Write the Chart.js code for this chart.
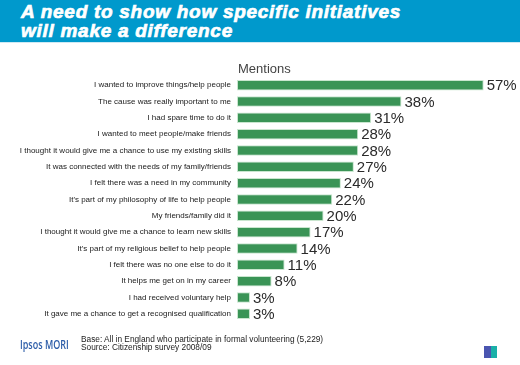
<!DOCTYPE html>
<html>
<head>
<meta charset="utf-8">
<script src="https://cdn.jsdelivr.net/npm/chart.js@4"></script>
<style>
  html, body { margin:0; padding:0; background:#fff; }
  #wrap { position:relative; width:520px; height:365px; overflow:hidden; font-family:"Liberation Sans", Arial, sans-serif; }
  #header { position:absolute; left:0; top:0; width:520px; height:42px; background:#0099CC; border-bottom:1px solid #cfe9f3; }
  #title { position:absolute; left:21px; top:2px; color:#fff; font-weight:bold; font-style:italic; font-size:19px; line-height:19px; letter-spacing:0.72px; -webkit-text-stroke:0.7px #fff; }
  #chartbox { position:absolute; left:0; top:0; width:520px; height:365px; }
  #logo { position:absolute; left:20px; top:336px; color:#2b5ca8; font-size:12.5px; font-family:"Open Sans", "Liberation Sans", sans-serif; font-weight:600; transform:scaleX(0.72); transform-origin:0 0; white-space:nowrap; }
  #note { position:absolute; left:81px; top:335px; color:#222; font-size:8.3px; line-height:8px; }
  #icon { position:absolute; left:484px; top:346px; width:13px; height:12px; background:linear-gradient(90deg,#4a55b0 0%,#4a55b0 55%,#1ab0a8 55%,#1ab0a8 100%); }
</style>
</head>
<body>
<div id="wrap">
  <div id="chartbox"><canvas id="c" width="520" height="365"></canvas></div>
  <div id="header"><div id="title">A need to show how specific initiatives<br>will make a difference</div></div>
  <div id="logo">Ipsos MORI</div>
  <div id="note">Base: All in England who participate in formal volunteering (5,229)<br>Source: Citizenship survey 2008/09</div>
  <div id="icon"></div>
</div>
<script>
const categories = [
  "I wanted to improve things/help people",
  "The cause was really important to me",
  "I had spare time to do it",
  "I wanted to meet people/make friends",
  "I thought it would give me a chance to use my existing skills",
  "It was connected with the needs of my family/friends",
  "I felt there was a need in my community",
  "It's part of my philosophy of life to help people",
  "My friends/family did it",
  "I thought it would give me a chance to learn new skills",
  "It's part of my religious belief to help people",
  "I felt there was no one else to do it",
  "It helps me get on in my career",
  "I had received voluntary help",
  "It gave me a chance to get a recognised qualification"
];
const mentions = [57, 38, 31, 28, 28, 27, 24, 22, 20, 17, 14, 11, 8, 3, 3];
const seriesLabel = "Mentions";

const valueLabels = {
  id: 'valueLabels',
  afterDatasetsDraw(chart) {
    const ctx = chart.ctx;
    const meta = chart.getDatasetMeta(0);
    ctx.save();
    ctx.font = '15px "Liberation Sans", Arial, sans-serif';
    ctx.fillStyle = '#2a2a2a';
    ctx.textAlign = 'left';
    ctx.textBaseline = 'middle';
    meta.data.forEach((bar, i) => {
      ctx.fillText(mentions[i] + '%', bar.x + 3, bar.y + 1);
    });
    ctx.font = '13px "Liberation Sans", Arial, sans-serif';
    ctx.fillStyle = '#444';
    ctx.fillText(seriesLabel, chart.chartArea.left + 1, 69);
    ctx.restore();
  }
};

new Chart(document.getElementById('c'), {
  type: 'bar',
  data: {
    labels: categories,
    datasets: [{
      label: seriesLabel,
      data: mentions,
      backgroundColor: '#3a9456',
      borderColor: '#c9e6cf',
      borderWidth: 1,
      borderSkipped: false,
      barPercentage: 0.64,
      categoryPercentage: 1.0
    }]
  },
  options: {
    indexAxis: 'y',
    responsive: false,
    animation: false,
    devicePixelRatio: 1,
    layout: { padding: { left: 0, right: 19, top: 77, bottom: 43 } },
    plugins: { legend: { display: false }, tooltip: { enabled: false }, title: { display: false } },
    scales: {
      x: { display: false, min: 0, max: 61 },
      y: {
        grid: { display: false, drawTicks: false },
        border: { display: false },
        afterFit(scale) { scale.width = 237; },
        ticks: {
          color: '#1a1a1a',
          padding: 6,
          font: { size: 8, family: '"Liberation Sans", Arial, sans-serif' }
        }
      }
    }
  },
  plugins: [valueLabels]
});
</script>
</body>
</html>
